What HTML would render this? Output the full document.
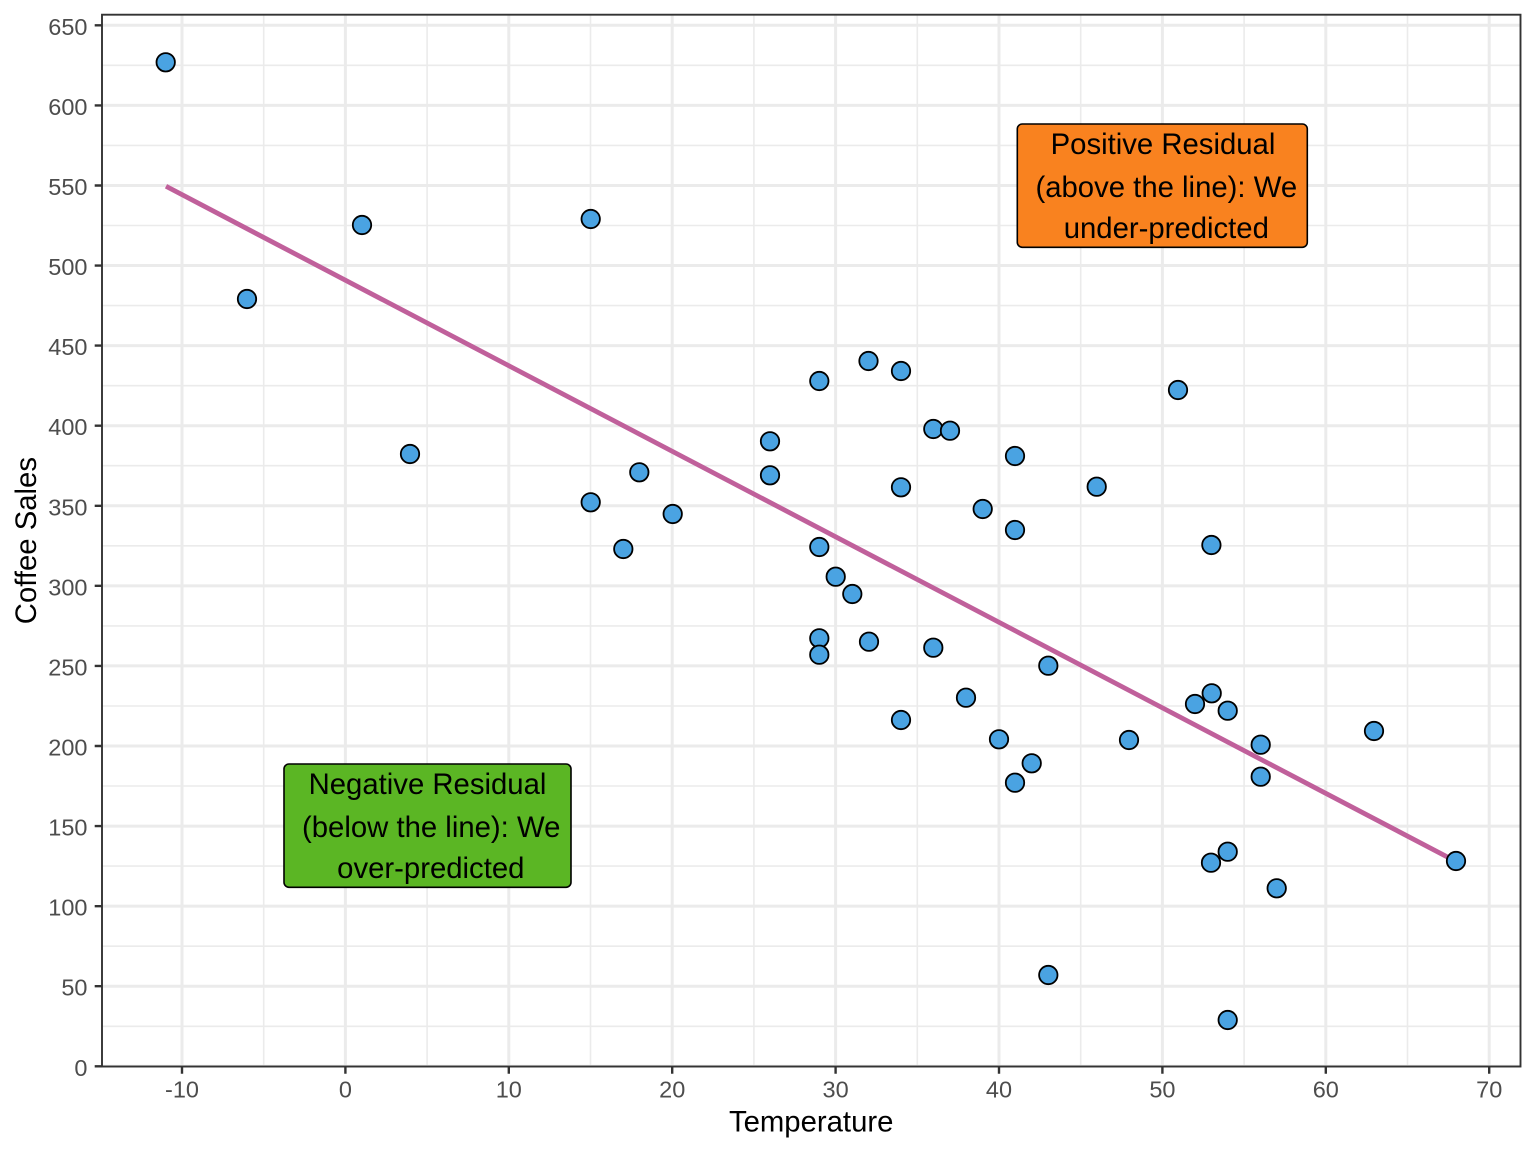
<!DOCTYPE html>
<html>
<head>
<meta charset="utf-8">
<style>
html,body{margin:0;padding:0;background:#fff;}
svg{display:block;}
text{font-family:"Liberation Sans",Arial,sans-serif;}
</style>
</head>
<body>
<svg width="1536" height="1152" viewBox="0 0 1536 1152" xmlns="http://www.w3.org/2000/svg">
<rect x="0" y="0" width="1536" height="1152" fill="#fff"/>
<path fill="none" stroke="#EBEBEB" stroke-width="1.6" d="M102 1026.3H1520.5M102 946.2H1520.5M102 866.1H1520.5M102 786H1520.5M102 706H1520.5M102 625.9H1520.5M102 545.8H1520.5M102 465.7H1520.5M102 385.7H1520.5M102 305.6H1520.5M102 225.5H1520.5M102 145.4H1520.5M102 65.3H1520.5M263.7 14.7V1066.5M427.1 14.7V1066.5M590.5 14.7V1066.5M753.9 14.7V1066.5M917.3 14.7V1066.5M1080.7 14.7V1066.5M1244.1 14.7V1066.5M1407.5 14.7V1066.5"/>
<path fill="none" stroke="#EBEBEB" stroke-width="3" d="M102 1066.3H1520.5M102 986.2H1520.5M102 906.15H1520.5M102 826.1H1520.5M102 746H1520.5M102 665.9H1520.5M102 585.85H1520.5M102 505.8H1520.5M102 425.7H1520.5M102 345.6H1520.5M102 265.55H1520.5M102 185.5H1520.5M102 105.4H1520.5M102 25.3H1520.5M182 14.7V1066.5M345.4 14.7V1066.5M508.8 14.7V1066.5M672.2 14.7V1066.5M835.6 14.7V1066.5M999 14.7V1066.5M1162.4 14.7V1066.5M1325.8 14.7V1066.5M1489.2 14.7V1066.5"/>
<line x1="166" y1="186.3" x2="1456" y2="861.5" stroke="#C0609B" stroke-width="4.8"/>
<defs><circle id="p" r="9.2" fill="#4AA3E2" stroke="#000" stroke-width="1.8"/></defs>
<use href="#p" x="165.7" y="62.3"/>
<use href="#p" x="247" y="299"/>
<use href="#p" x="362" y="225"/>
<use href="#p" x="410" y="454"/>
<use href="#p" x="590.7" y="219"/>
<use href="#p" x="590.7" y="502.3"/>
<use href="#p" x="623.3" y="549"/>
<use href="#p" x="639.3" y="472.3"/>
<use href="#p" x="672.7" y="514"/>
<use href="#p" x="770" y="441.3"/>
<use href="#p" x="770" y="475.3"/>
<use href="#p" x="819.3" y="381"/>
<use href="#p" x="819.3" y="547"/>
<use href="#p" x="819.3" y="638.3"/>
<use href="#p" x="819.3" y="654.7"/>
<use href="#p" x="835.7" y="576.7"/>
<use href="#p" x="852.3" y="594"/>
<use href="#p" x="868.5" y="361"/>
<use href="#p" x="869" y="641.7"/>
<use href="#p" x="901" y="371"/>
<use href="#p" x="901" y="487.3"/>
<use href="#p" x="901" y="720"/>
<use href="#p" x="933.3" y="429"/>
<use href="#p" x="933.3" y="647.7"/>
<use href="#p" x="950" y="430.7"/>
<use href="#p" x="966" y="697.7"/>
<use href="#p" x="982.7" y="509"/>
<use href="#p" x="999" y="739.3"/>
<use href="#p" x="1015" y="456"/>
<use href="#p" x="1015" y="530"/>
<use href="#p" x="1015" y="782.7"/>
<use href="#p" x="1031.7" y="763.3"/>
<use href="#p" x="1048.3" y="665.7"/>
<use href="#p" x="1048.3" y="975"/>
<use href="#p" x="1096.7" y="486.7"/>
<use href="#p" x="1129" y="740"/>
<use href="#p" x="1178" y="390"/>
<use href="#p" x="1195" y="704"/>
<use href="#p" x="1211.4" y="545"/>
<use href="#p" x="1211.7" y="693.3"/>
<use href="#p" x="1211" y="862.7"/>
<use href="#p" x="1227.7" y="710.7"/>
<use href="#p" x="1227.7" y="851.7"/>
<use href="#p" x="1227.7" y="1020"/>
<use href="#p" x="1260.7" y="744.7"/>
<use href="#p" x="1260.7" y="776.7"/>
<use href="#p" x="1276.7" y="888.3"/>
<use href="#p" x="1374" y="731"/>
<use href="#p" x="1456" y="861"/>
<rect x="1017.3" y="124" width="290" height="123.3" rx="5" ry="5" fill="#F9821F" stroke="#000" stroke-width="1.6"/>
<text x="1163" y="154" font-size="29.3" text-anchor="middle" fill="#000">Positive Residual</text>
<text x="1166.3" y="197" font-size="29.3" text-anchor="middle" fill="#000">(above the line): We</text>
<text x="1166.3" y="238" font-size="29.3" text-anchor="middle" fill="#000">under-predicted</text>
<rect x="284" y="764" width="287" height="123.3" rx="5" ry="5" fill="#5BB624" stroke="#000" stroke-width="1.6"/>
<text x="427.5" y="794" font-size="29.3" text-anchor="middle" fill="#000">Negative Residual</text>
<text x="431.2" y="837" font-size="29.3" text-anchor="middle" fill="#000">(below the line): We</text>
<text x="430.8" y="878" font-size="29.3" text-anchor="middle" fill="#000">over-predicted</text>
<rect x="102" y="14.7" width="1418.5" height="1051.8" fill="none" stroke="#333333" stroke-width="1.9"/>
<path fill="none" stroke="#333333" stroke-width="2.4" d="M94.7 1066.3H102M94.7 986.2H102M94.7 906.15H102M94.7 826.1H102M94.7 746H102M94.7 665.9H102M94.7 585.85H102M94.7 505.8H102M94.7 425.7H102M94.7 345.6H102M94.7 265.55H102M94.7 185.5H102M94.7 105.4H102M94.7 25.3H102M182 1066.5V1073.8M345.4 1066.5V1073.8M508.8 1066.5V1073.8M672.2 1066.5V1073.8M835.6 1066.5V1073.8M999 1066.5V1073.8M1162.4 1066.5V1073.8M1325.8 1066.5V1073.8M1489.2 1066.5V1073.8"/>
<g font-size="23.5" fill="#4D4D4D" text-anchor="end">
<text x="87.5" y="1075.8">0</text>
<text x="87.5" y="995.7">50</text>
<text x="87.5" y="915.65">100</text>
<text x="87.5" y="835.6">150</text>
<text x="87.5" y="755.5">200</text>
<text x="87.5" y="675.4">250</text>
<text x="87.5" y="595.35">300</text>
<text x="87.5" y="515.3">350</text>
<text x="87.5" y="435.2">400</text>
<text x="87.5" y="355.1">450</text>
<text x="87.5" y="275.05">500</text>
<text x="87.5" y="195">550</text>
<text x="87.5" y="114.9">600</text>
<text x="87.5" y="34.8">650</text>
</g>
<g font-size="23.5" fill="#4D4D4D" text-anchor="middle">
<text x="182" y="1097.7">-10</text>
<text x="345.4" y="1097.7">0</text>
<text x="508.8" y="1097.7">10</text>
<text x="672.2" y="1097.7">20</text>
<text x="835.6" y="1097.7">30</text>
<text x="999" y="1097.7">40</text>
<text x="1162.4" y="1097.7">50</text>
<text x="1325.8" y="1097.7">60</text>
<text x="1489.2" y="1097.7">70</text>
</g>
<text x="811.2" y="1131.7" font-size="29.3" fill="#000" text-anchor="middle">Temperature</text>
<text transform="translate(36,540.6) rotate(-90)" font-size="29.3" fill="#000" text-anchor="middle">Coffee Sales</text>
</svg>
</body>
</html>
